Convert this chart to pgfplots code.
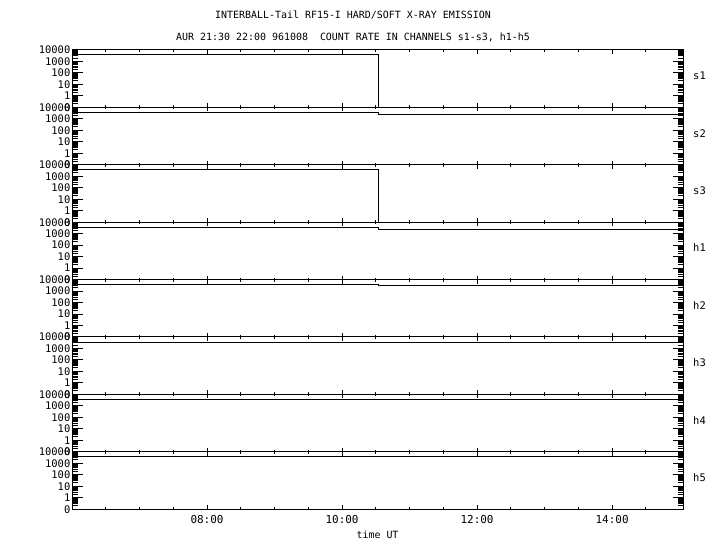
\documentclass[border=0pt]{standalone}
\usepackage{pgfplots}
\pgfplotsset{compat=1.18}
\usepackage{fontspec}
\setmainfont{DejaVu Sans Mono}
\setmonofont{DejaVu Sans Mono}
\tikzset{
  dataline/.style={black, line width=1bp},
  chan/.style={anchor=west, xshift=10bp, font=\fontsize{10.5}{11}\selectfont, inner sep=0pt},
}
\pgfplotsset{
  panel/.style={
    scale only axis, width=611bp, height=57.4bp, anchor=south west,
    xmin=6.0, xmax=15.05, ymin=0, ymax=5,
    clip=false,
    axis line style={line width=1bp},
    every tick/.style={black, line width=1bp},
    xtick={8,10,12,14},
    minor xtick={6.5,7,7.5,8.5,9,9.5,10.5,11,11.5,12.5,13,13.5,14.5},
    xticklabels={},
    xtick style={/pgfplots/major tick length=4bp,/pgfplots/minor tick length=2bp},
    ytick={0,1,2,3,4,5},
    yticklabels={\mbox{0},\mbox{1},\mbox{10},\mbox{100},\mbox{1000},\mbox{10000}},
    minor ytick={0.301,0.477,0.602,0.699,0.778,0.845,0.903,0.954,
                 1.301,1.477,1.602,1.699,1.778,1.845,1.903,1.954,
                 2.301,2.477,2.602,2.699,2.778,2.845,2.903,2.954,
                 3.301,3.477,3.602,3.699,3.778,3.845,3.903,3.954,
                 4.301,4.477,4.602,4.699,4.778,4.845,4.903,4.954},
    ytick style={/pgfplots/major tick length=10.5bp,/pgfplots/minor tick length=5.5bp},
    yticklabel style={font=\fontsize{10.5}{11}\selectfont, inner sep=1.5bp},
    xticklabel style={font=\fontsize{11}{11}\selectfont, yshift=-3bp},
    y filter/.expression={y<1 ? y : ln(max(y,1))/ln(10)+1},
  },
}
\begin{document}
\begin{tikzpicture}
\node[font=\fontsize{10}{12}\selectfont, anchor=base] at (353bp,531bp) {INTERBALL-Tail RF15-I HARD/SOFT X-RAY EMISSION};
\node[font=\fontsize{10}{12}\selectfont, anchor=base] at (353bp,509bp) {AUR 21:30 22:00 961008\ \ COUNT RATE IN CHANNELS s1-s3, h1-h5};

% s1
\begin{axis}[panel, at={(72bp,442.6bp)}]
\addplot[dataline] coordinates {(6.0,4200) (10.533,4200) (10.533,0) (15.05,0)};
\node[chan] at (rel axis cs:1,0.55) {s1};
\end{axis}
% s2
\begin{axis}[panel, at={(72bp,385.2bp)}]
\addplot[dataline] coordinates {(6.0,3900) (10.533,3900) (10.533,2450) (15.05,2450)};
\node[chan] at (rel axis cs:1,0.55) {s2};
\end{axis}
% s3
\begin{axis}[panel, at={(72bp,327.8bp)}]
\addplot[dataline] coordinates {(6.0,4000) (10.533,4000) (10.533,0) (15.05,0)};
\node[chan] at (rel axis cs:1,0.55) {s3};
\end{axis}
% h1
\begin{axis}[panel, at={(72bp,270.4bp)}]
\addplot[dataline] coordinates {(6.0,3630) (10.533,3630) (10.533,2450) (15.05,2450)};
\node[chan] at (rel axis cs:1,0.55) {h1};
\end{axis}
% h2
\begin{axis}[panel, at={(72bp,213.0bp)}]
\addplot[dataline] coordinates {(6.0,3630) (10.533,3630) (10.533,3020) (15.05,3020)};
\node[chan] at (rel axis cs:1,0.55) {h2};
\end{axis}
% h3
\begin{axis}[panel, at={(72bp,155.6bp)}]
\addplot[dataline] coordinates {(6.0,3160) (15.05,3160)};
\node[chan] at (rel axis cs:1,0.55) {h3};
\end{axis}
% h4
\begin{axis}[panel, at={(72bp,98.2bp)}]
\addplot[dataline] coordinates {(6.0,3470) (15.05,3470)};
\node[chan] at (rel axis cs:1,0.55) {h4};
\end{axis}
% h5
\begin{axis}[panel, at={(72bp,40.8bp)},
  xticklabels={\mbox{08:00},\mbox{10:00},\mbox{12:00},\mbox{14:00}},
  xlabel={time UT}, xlabel style={font=\fontsize{10}{11}\selectfont, inner sep=0pt, yshift=-3bp}]
\addplot[dataline] coordinates {(6.0,3980) (15.05,3980)};
\node[chan] at (rel axis cs:1,0.55) {h5};
\end{axis}
\pgfresetboundingbox
\path[use as bounding box] (0,0) rectangle (720bp,550bp);
\end{tikzpicture}
\end{document}
